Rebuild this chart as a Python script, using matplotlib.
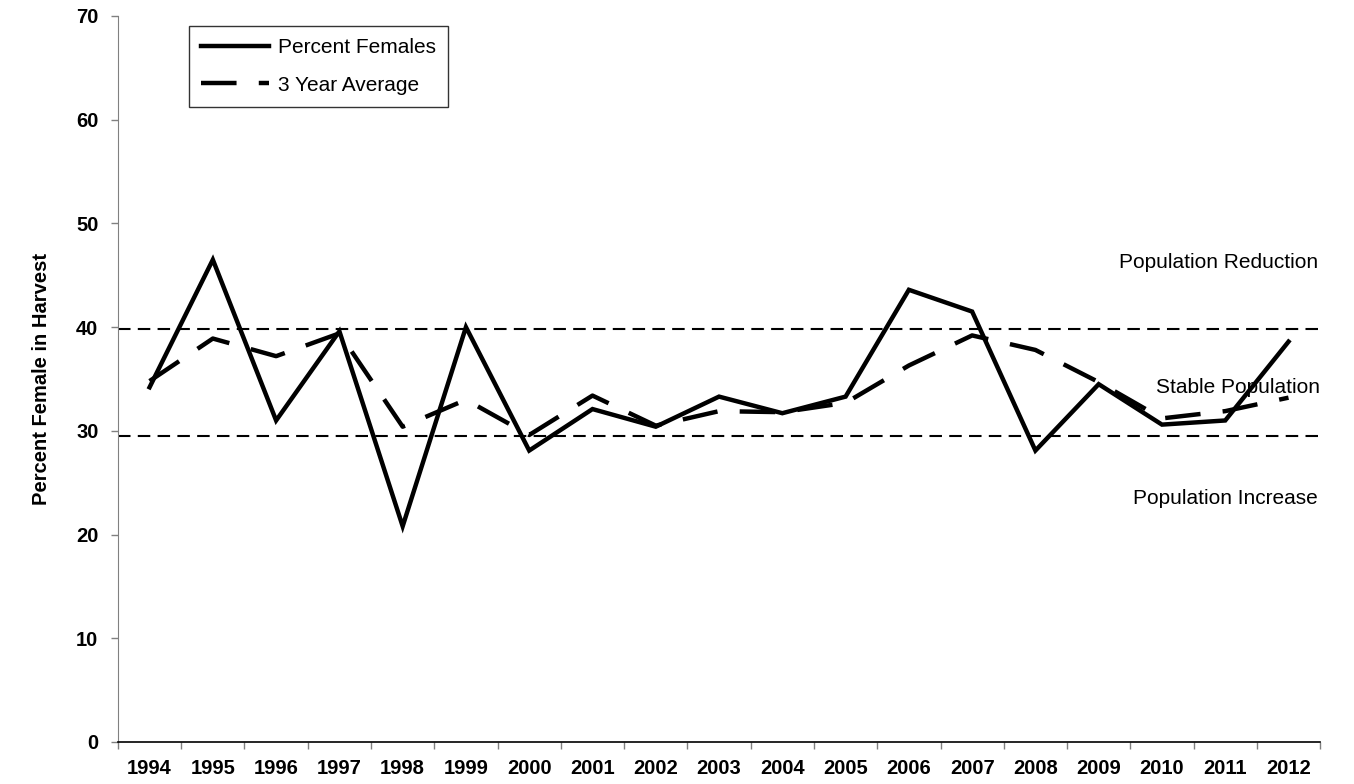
import matplotlib
matplotlib.use("Agg")
import matplotlib.pyplot as plt
import numpy as np

plt.rcParams['font.family'] = ['Liberation Sans', 'DejaVu Sans']

years = [str(y) for y in range(1994, 2013)]
percent_females = [34.2, 46.5, 31.0, 39.6, 20.8, 40.0, 28.1, 32.1, 30.4, 33.3,
                   31.7, 33.3, 43.6, 41.5, 28.1, 34.5, 30.6, 31.0, 38.6]
three_year_avg = [34.8, 38.9, 37.2, 39.4, 30.4, 33.0, 29.6, 33.4, 30.5, 31.9,
                  31.8, 32.7, 36.3, 39.2, 37.8, 34.7, 31.2, 31.9, 33.2]
upper_threshold = 39.8
lower_threshold = 29.5
y_ticks = [0, 10, 20, 30, 40, 50, 60, 70]

fig = plt.figure(figsize=(13.54, 7.84), dpi=100)
ax = fig.add_axes([0.0871, 0.0536, 0.975 - 0.0871, 0.9796 - 0.0536])

x = np.arange(len(years))
ax.axhline(upper_threshold, color='black', lw=1.5, ls=(0, (6, 3.5)), zorder=1)
ax.axhline(lower_threshold, color='black', lw=1.5, ls=(0, (6, 3.5)), zorder=1)
ax.plot(x, percent_females, color='black', lw=3.2, label='Percent Females',
        solid_joinstyle='miter', zorder=3)
ax.plot(x, three_year_avg, color='black', lw=3.2, ls=(0, (8, 5)),
        label='3 Year Average', zorder=2)

ax.set_xlim(-0.5, len(years) - 0.5)
ax.set_ylim(0, 70)
ax.set_xticks(np.arange(-0.5, len(years), 1.0))
ax.set_xticklabels([])
ax.set_xticks(x, minor=True)
ax.set_xticklabels(years, minor=True, fontsize=14.5, fontweight='bold')
ax.tick_params(axis='x', which='minor', length=0, pad=12)
ax.tick_params(axis='x', which='major', length=5, width=1, color='#808080')
ax.set_yticks(y_ticks)
ax.set_yticklabels([str(v) for v in y_ticks], fontsize=14.5, fontweight='bold')
ax.tick_params(axis='y', length=5, width=1, color='#808080', pad=9)

for s in ['top', 'right']:
    ax.spines[s].set_visible(False)
ax.spines['left'].set_color('#808080')
ax.spines['bottom'].set_color('black')
ax.spines['bottom'].set_linewidth(1.2)

ax.set_ylabel('Percent Female in Harvest', fontsize=14.5, fontweight='bold', labelpad=18)

ax.text(16.9, 46.2, 'Population Reduction', fontsize=15, ha='center', va='center')
ax.text(17.2, 34.2, 'Stable Population', fontsize=15, ha='center', va='center')
ax.text(17.0, 23.5, 'Population Increase', fontsize=15, ha='center', va='center')

leg = ax.legend(loc='upper left', bbox_to_anchor=(0.059, 0.986), fontsize=15,
                frameon=True, fancybox=False, edgecolor='black', handlelength=3.3,
                handletextpad=0.4, borderpad=0.57, labelspacing=0.9,
                borderaxespad=0)
leg.get_frame().set_linewidth(1.0)

fig.savefig('out.png', dpi=100, facecolor='white')
